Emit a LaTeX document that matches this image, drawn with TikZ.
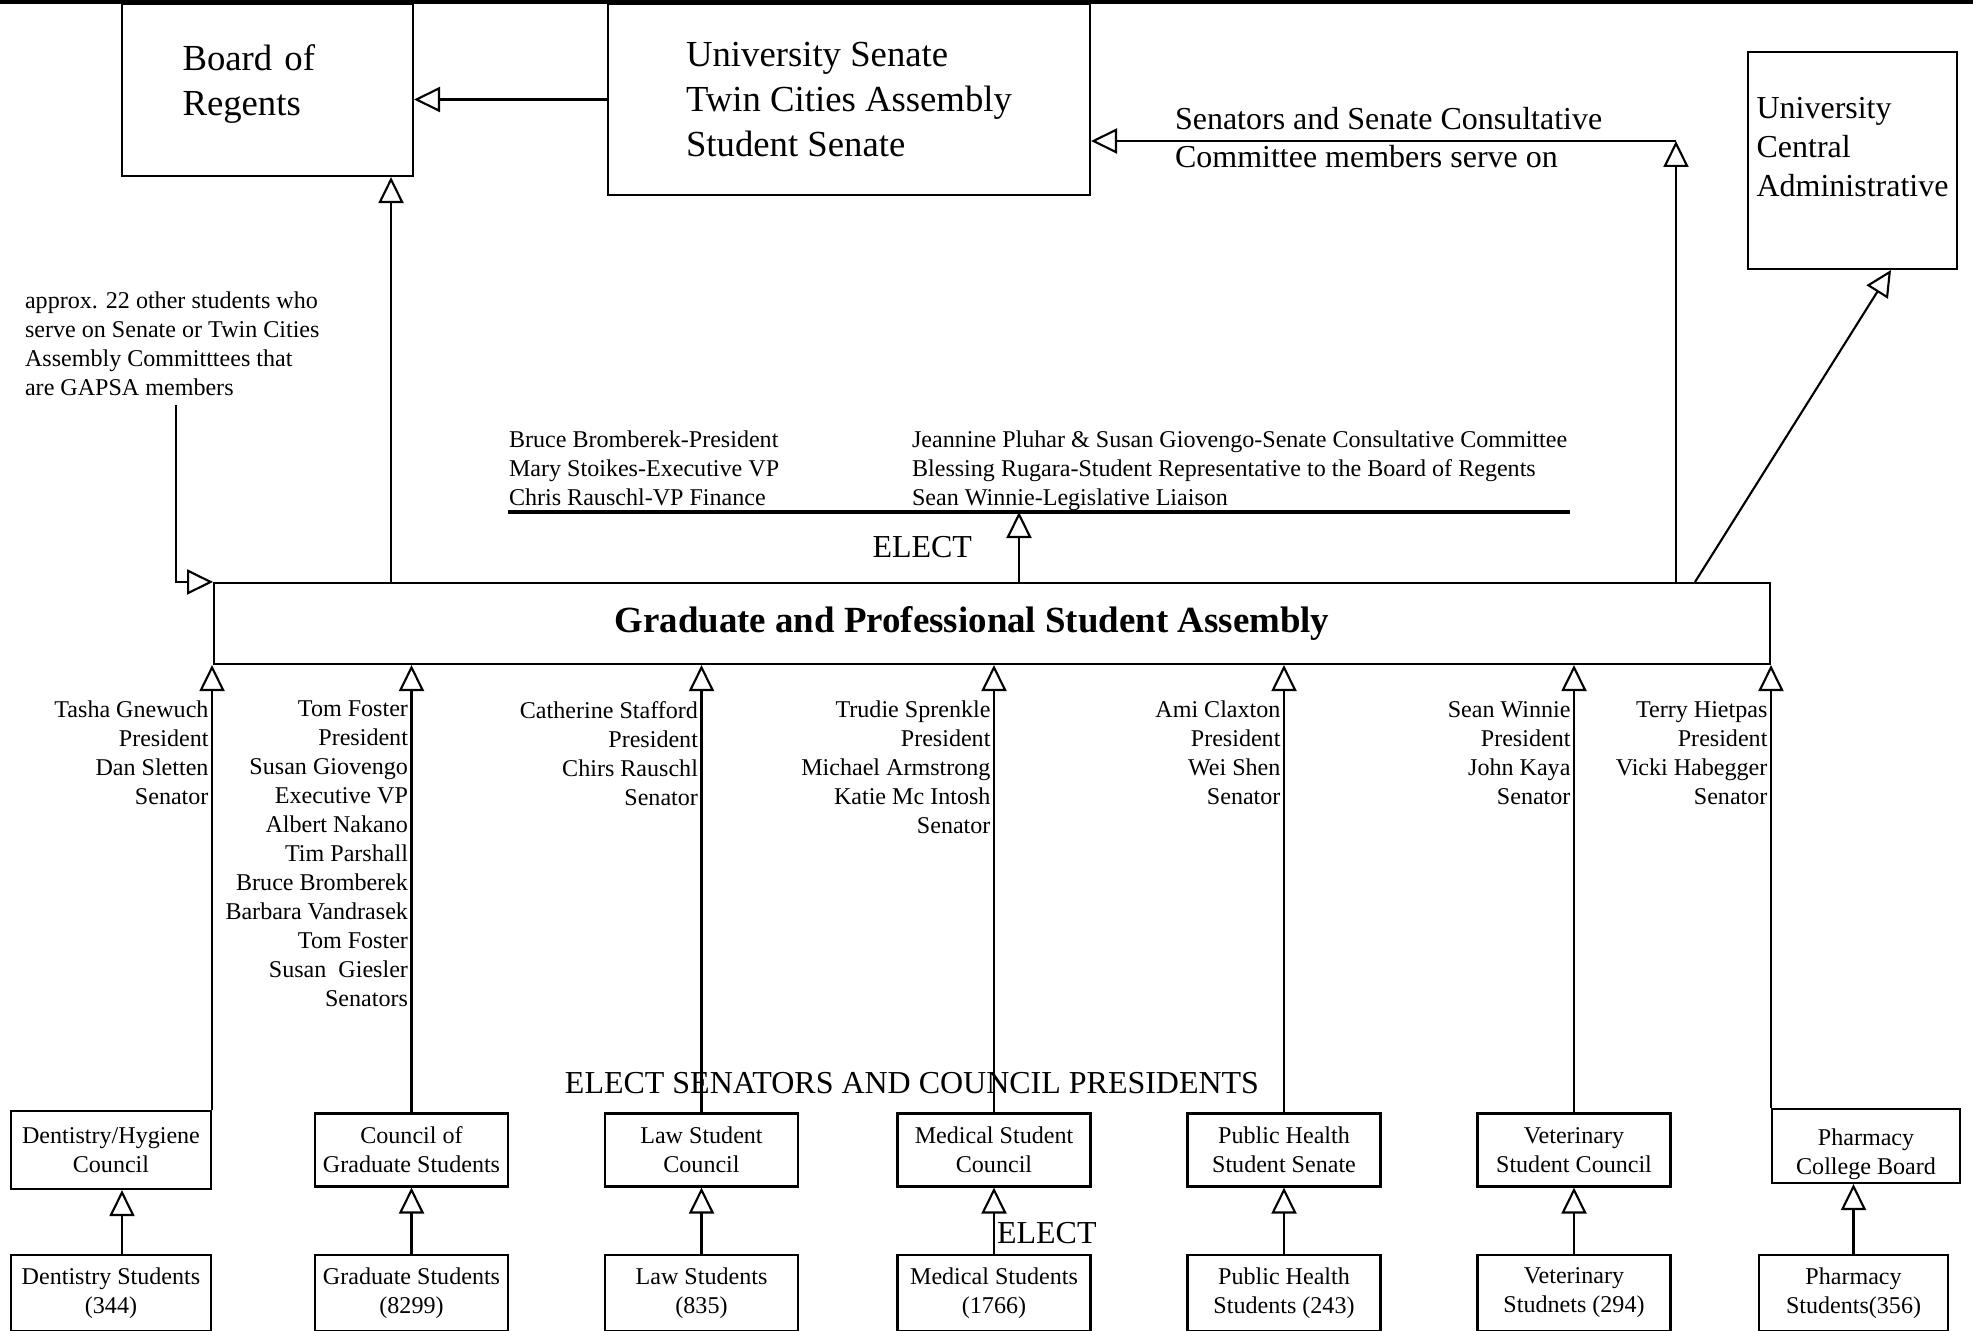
\documentclass[tikz,border=0pt]{standalone}
\usepackage{fontspec}
\setmainfont{Liberation Serif}
\usetikzlibrary{arrows.meta,positioning}
\newcommand{\lblfont}{\fontsize{13.7}{16.5}\selectfont}
\newcommand{\bigfont}{\fontsize{20.9}{25.6}\selectfont}
\newcommand{\midfont}{\fontsize{18.2}{22.1}\selectfont}
\tikzset{
    >={Triangle[open,length=0.52cm,width=0.5cm]},
    orgbox/.style 2 args={draw, minimum width=#1cm, minimum height=#2cm,
        inner sep=0pt, align=center, font=\lblfont},
    bigbox/.style={draw, inner sep=0pt, align=left, font=\bigfont},
    lbl/.style={anchor=north east, inner sep=0pt, xshift=-0.05cm, yshift=-0.7cm,
        align=right, font=\lblfont},
    note/.style={anchor=north west, inner sep=0pt, align=left, font=\lblfont},
    elect/.style={inner sep=0pt, font=\midfont}
}

\begin{document}
\begin{tikzpicture}[line width=1.2pt]
    \begin{scope}[x=0.02cm, y=-0.02cm]
    \useasboundingbox (0,0) rectangle (1973,1331);
    \draw[line width=2pt] (0,2) -- (1973,2);
    % top row
    \node[bigbox, minimum width=5.82cm, minimum height=3.44cm, text width=3.4cm] (bor) at (267.5,90) {Board of\\Regents\rule[-0.4cm]{0pt}{0pt}};
    \node[bigbox, minimum width=9.64cm, minimum height=3.82cm] (senate) at (849,99.5) {University Senate\\Twin Cities Assembly\\Student Senate};
    \node[draw, inner sep=0pt, align=left, font=\midfont, minimum width=4.18cm, minimum height=4.34cm, text depth=0.54cm] (uca) at (1852.5,160.5) {University\\Central\\Administrative};
    \node[draw, minimum width=31.12cm, minimum height=1.62cm, font=\fontsize{21}{25}\selectfont\bfseries] (gapsa) at (992,623.5) {Graduate and Professional Student Assembly\kern0.8cm};
    % councils
    \node[orgbox={4.0}{1.56}] (c1) at (111,1150) {Dentistry/Hygiene\\Council};
    \node[orgbox={3.86}{1.46}] (c2) at (411.5,1150) {Council of\\Graduate Students};
    \node[orgbox={3.86}{1.46}] (c3) at (701.5,1150) {Law Student\\Council};
    \node[orgbox={3.86}{1.46}] (c4) at (994,1150) {Medical Student\\Council};
    \node[orgbox={3.86}{1.46}] (c5) at (1284,1150) {Public Health\\Student Senate};
    \node[orgbox={3.86}{1.46}] (c6) at (1574,1150) {Veterinary\\Student Council};
    \node[orgbox={3.76}{1.48}] (c7) at (1866,1146) {\rule{0pt}{0.67cm}Pharmacy\\College Board};
    % students
    \node[orgbox={4.0}{1.52}] (s1) at (111,1293) {Dentistry Students\\(344)};
    \node[orgbox={3.86}{1.52}] (s2) at (411.5,1293) {Graduate Students\\(8299)};
    \node[orgbox={3.86}{1.52}] (s3) at (701.5,1293) {Law Students\\(835)};
    \node[orgbox={3.86}{1.52}] (s4) at (994,1293) {Medical Students\\(1766)};
    \node[orgbox={3.86}{1.52}] (s5) at (1284,1293) {Public Health\\Students (243)};
    \node[orgbox={3.86}{1.52}] (s6) at (1574,1293) {Veterinary\\Studnets (294)};
    \node[orgbox={3.78}{1.52}] (s7) at (1853.5,1293) {Pharmacy\\Students(356)};
    \draw[->] ([xshift=0.22cm]s1.north) -- ([xshift=0.22cm]s1.north |- c1.south);
    \draw[->] (s2.north) -- (s2.north |- c2.south);
    \draw[->] (s3.north) -- (s3.north |- c3.south);
    \draw[->] (s4.north) -- (s4.north |- c4.south);
    \draw[->] (s5.north) -- (s5.north |- c5.south);
    \draw[->] (s6.north) -- (s6.north |- c6.south);
    \draw[->] (s7.north) -- (s7.north |- c7.south);
    \node[elect, anchor=west] (electmed) at (996,1233) {ELECT};
    \node[elect] (electall) at (912,1083) {ELECT SENATORS AND COUNCIL PRESIDENTS};
    % councils up to the assembly
    \draw[->] (c1.north east) -- (c1.north east |- gapsa.south) node[lbl] (l1) {Tasha Gnewuch\\President\\Dan Sletten\\Senator};
    \draw[->] (c2.north) -- (c2.north |- gapsa.south) node[lbl] (l2) {Tom Foster\\President\\Susan Giovengo\\Executive VP\\Albert Nakano\\Tim Parshall\\Bruce Bromberek\\Barbara Vandrasek\\Tom Foster\\Susan\ \ Giesler\\Senators};
    \draw[->] (c3.north) -- (c3.north |- gapsa.south) node[lbl] (l3) {Catherine Stafford\\President\\Chirs Rauschl\\Senator};
    \draw[->] (c4.north) -- (c4.north |- gapsa.south) node[lbl] (l4) {Trudie Sprenkle\\President\\Michael Armstrong\\Katie Mc Intosh\\Senator};
    \draw[->] (c5.north) -- (c5.north |- gapsa.south) node[lbl] (l5) {Ami Claxton\\President\\Wei Shen\\Senator};
    \draw[->] (c6.north) -- (c6.north |- gapsa.south) node[lbl] (l6) {Sean Winnie\\President\\John Kaya\\Senator};
    \draw[->] (c7.north west) -- (c7.north west |- gapsa.south) node[lbl] (l7) {Terry Hietpas\\President\\Vicki Habegger\\Senator};
    % officers
    \node[note] (off1) at (508,430) {Bruce Bromberek-President\\Mary Stoikes-Executive VP\\Chris Rauschl-VP Finance};
    \node[note] (off2) at (911,430) {Jeannine Pluhar \& Susan Giovengo-Senate Consultative Committee\\Blessing Rugara-Student Representative to the Board of Regents\\Sean Winnie-Legislative Liaison};
    \coordinate (ul1) at (508,512);
    \coordinate (ul2) at (1570,512);
    \draw[line width=2.4pt] (ul1) -- (ul2);
    \coordinate (e1) at (1019,512);
    \draw[->] (gapsa.north -| e1) -- (e1);
    \node[elect, anchor=east] (elect1) at (973,547) {ELECT};
    % other committee students
    \node[note] (note) at (24,291) {approx. 22 other students who\\serve on Senate or Twin Cities\\Assembly Committtees that\\are GAPSA members};
    \coordinate (n1) at (176,405);
    \draw[->] (n1) |- (gapsa.north west);
    % upward links
    \coordinate (b1) at ([xshift=-0.46cm]bor.south east);
    \draw[->] (gapsa.north -| b1) -- (b1);
    \draw[->] (senate.west) -- (senate.west -| bor.east);
    \coordinate (k1) at (1676,141);
    \draw[->] (gapsa.north -| k1) -- (k1);
    \draw[->] (k1) -- (k1 -| senate.east);
    \node[anchor=west, align=left, font=\midfont, inner sep=0pt] (serve) at (1174,137.5) {Senators and Senate Consultative\\Committee members serve on};
    \coordinate (d1) at (1695,583);
    \draw[->] (gapsa.north -| d1) -- ([xshift=0.77cm]uca.south);
    \end{scope}
\end{tikzpicture}
\end{document}
